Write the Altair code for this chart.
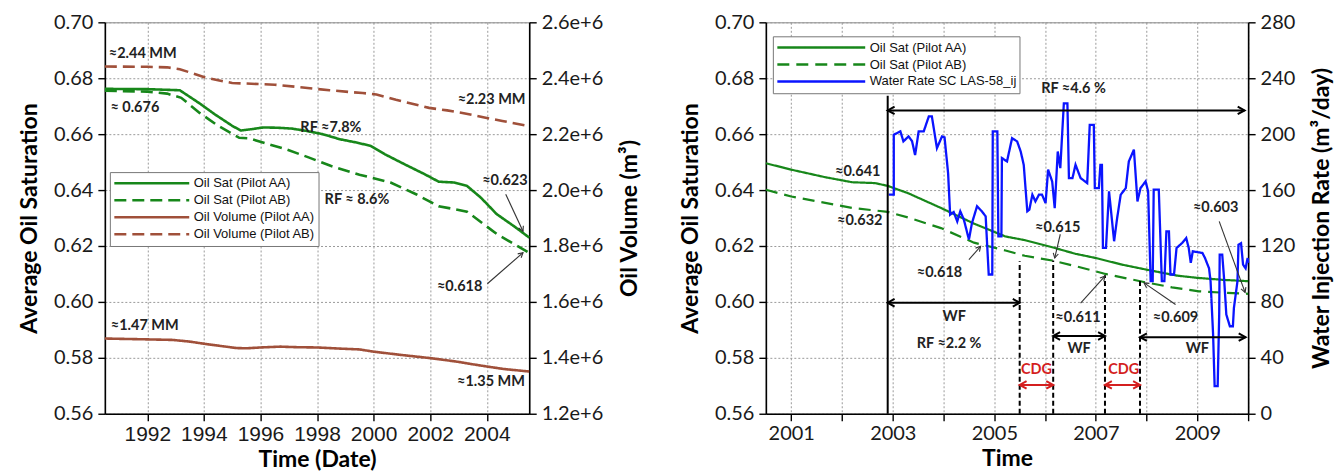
import altair as alt
import pandas as pd
import numpy as np

# ---------------- Left panel data ----------------
L_AA_YEAR = [1990.5, 1992.0, 1993.15, 1993.85, 1994.4, 1995.0, 1995.3, 1995.7, 1996.1, 1996.6, 1997.1, 1997.6,
             1998.2, 1998.8, 1999.4, 1999.9, 2000.4, 2001.1, 2001.8, 2002.3, 2002.85, 2003.3, 2003.8, 2004.35,
             2005.0, 2005.5]
L_AA_SAT = [0.6762, 0.6761, 0.6757, 0.6710, 0.6670, 0.6630, 0.6613, 0.6618, 0.6624, 0.6623, 0.6620, 0.6612,
            0.6600, 0.6582, 0.6570, 0.6558, 0.6528, 0.6492, 0.6457, 0.6430, 0.6427, 0.6415, 0.6372, 0.6314,
            0.6268, 0.6230]
L_AB_YEAR = [1990.5, 1992.0, 1992.7, 1993.2, 1993.85, 1994.5, 1995.25, 1995.6, 1996.2, 1996.9, 1997.7, 1998.5,
             1999.5, 2000.6, 2001.5, 2002.3, 2002.85, 2003.3, 2003.8, 2004.35, 2005.0, 2005.5]
L_AB_SAT = [0.6755, 0.6752, 0.6745, 0.6730, 0.6676, 0.6630, 0.6587, 0.6585, 0.6567, 0.6546, 0.6517, 0.6486,
            0.6455, 0.6427, 0.6385, 0.6342, 0.6332, 0.6323, 0.6285, 0.6243, 0.6205, 0.6175]
L_VAA_YEAR = [1990.5, 1992.0, 1992.9, 1993.5, 1994.1, 1994.7, 1995.15, 1995.5, 1996.0, 1996.7, 1997.3, 1998.0,
              1998.8, 1999.5, 2000.0, 2001.0, 2002.0, 2002.9, 2003.5, 2004.0, 2004.6, 2005.5]
L_VAA = [1.469e6, 1.466e6, 1.464e6, 1.458e6, 1.449e6, 1.441e6, 1.435e6, 1.434e6, 1.437e6, 1.440e6, 1.438e6,
         1.437e6, 1.433e6, 1.430e6, 1.422e6, 1.410e6, 1.399e6, 1.387e6, 1.377e6, 1.369e6, 1.360e6, 1.351e6]
L_VAB_YEAR = [1990.5, 1992.0, 1992.7, 1993.15, 1993.6, 1994.1, 1995.0, 1996.5, 1997.5, 1998.44, 1999.61, 2000.1,
              2000.79, 2001.96, 2002.6, 2003.14, 2004.1, 2004.55, 2005.5]
L_VAB = [2.442e6, 2.441e6, 2.439e6, 2.432e6, 2.418e6, 2.401e6, 2.383e6, 2.377e6, 2.367e6, 2.357e6, 2.347e6,
         2.342e6, 2.323e6, 2.294e6, 2.285e6, 2.276e6, 2.256e6, 2.247e6, 2.229e6]

L_SERIES = ["Oil Sat (Pilot AA)", "Oil Sat (Pilot AB)", "Oil Volume (Pilot AA)", "Oil Volume (Pilot AB)"]
L_XTICKS = [1992, 1994, 1996, 1998, 2000, 2002, 2004]
SAT_TICKS = [0.56, 0.58, 0.60, 0.62, 0.64, 0.66, 0.68, 0.70]
VOL_TICKS = [1.2e6, 1.4e6, 1.6e6, 1.8e6, 2.0e6, 2.2e6, 2.4e6, 2.6e6]

L_TEXT = ["≈2.44 MM", "≈ 0.676", "RF ≈7.8%", "RF ≈ 8.6%", "≈2.23 MM", "≈0.623", "≈0.618", "≈1.47 MM", "≈1.35 MM"]
L_TEXT_YEAR = [1991.84, 1991.56, 1998.49, 1999.41, 2004.17, 2004.64, 2003.04, 1991.91, 2004.15]
L_TEXT_VAL = [0.6887, 0.6694, 0.6623, 0.6363, 0.6723, 0.6431, 0.6053, 0.5915, 0.5715]

L_PTR_X1 = [2004.67, 2004.02]
L_PTR_Y1 = [0.6385, 0.6065]
L_PTR_X2 = [2005.28, 2005.28]
L_PTR_Y2 = [0.6253, 0.6176]

# ---------------- Right panel data ----------------
R_AA_YEAR = [2000.5, 2001.0, 2001.67, 2002.2, 2002.65, 2002.9, 2003.3, 2003.95, 2004.6, 2005.22, 2005.6, 2006.19,
             2006.6, 2007.0, 2007.5, 2007.98, 2008.6, 2009.0, 2009.5, 2010.0]
R_AA_SAT = [0.6496, 0.6473, 0.6446, 0.6428, 0.6425, 0.6415, 0.6389, 0.6336, 0.6280, 0.6234, 0.6221, 0.6193,
            0.6172, 0.6157, 0.6134, 0.6116, 0.6094, 0.6086, 0.6079, 0.6074]
R_AB_YEAR = [2000.5, 2001.0, 2001.67, 2002.2, 2002.9, 2003.3, 2003.95, 2004.6, 2005.22, 2005.6, 2006.14, 2006.6,
             2007.19, 2007.98, 2008.5, 2009.03, 2009.5, 2010.0]
R_AB_SAT = [0.6401, 0.6377, 0.6354, 0.6336, 0.6322, 0.6302, 0.6264, 0.6212, 0.6184, 0.6165, 0.6148, 0.6128,
            0.6100, 0.6070, 0.6052, 0.6038, 0.6033, 0.6029]
RATE_POINTS = [
    (2002.92, 156.7), (2003.02, 156.7), (2003.02, 199.6), (2003.15, 202.0), (2003.21, 194.8), (2003.31, 198.4),
    (2003.38, 195.0), (2003.44, 185.0), (2003.51, 202.0), (2003.61, 202.0), (2003.71, 212.7), (2003.77, 212.7),
    (2003.87, 190.0), (2003.97, 198.4), (2004.02, 197.7), (2004.09, 172.0), (2004.13, 142.4), (2004.20, 144.3),
    (2004.27, 137.6), (2004.33, 144.8), (2004.40, 138.9), (2004.50, 124.6), (2004.56, 136.4), (2004.66, 148.4),
    (2004.75, 145.0), (2004.83, 141.2), (2004.89, 99.6), (2004.96, 99.6), (2004.97, 202.0), (2005.06, 202.0),
    (2005.08, 126.9), (2005.14, 126.9), (2005.15, 182.9), (2005.25, 180.5), (2005.35, 197.1), (2005.45, 194.8),
    (2005.52, 187.6), (2005.58, 178.0), (2005.65, 144.8), (2005.69, 146.0), (2005.75, 156.7), (2005.81, 151.9),
    (2005.88, 156.7), (2005.94, 156.7), (2006.01, 150.7), (2006.06, 174.6), (2006.14, 166.2), (2006.19, 147.1),
    (2006.25, 187.6), (2006.30, 175.7), (2006.37, 222.0), (2006.44, 222.0), (2006.47, 168.6), (2006.54, 168.6),
    (2006.60, 178.1), (2006.70, 168.6), (2006.83, 165.0), (2006.88, 206.7), (2006.96, 206.7), (2006.98, 161.4),
    (2007.06, 161.4), (2007.09, 178.1), (2007.12, 178.1), (2007.14, 118.6), (2007.20, 118.6), (2007.26, 159.1),
    (2007.36, 123.4), (2007.42, 140.0), (2007.49, 156.7), (2007.59, 161.4), (2007.65, 180.5), (2007.75, 188.9),
    (2007.82, 151.9), (2007.88, 161.4), (2007.98, 166.2), (2008.03, 159.1), (2008.08, 94.8), (2008.12, 94.8),
    (2008.14, 160.3), (2008.24, 160.3), (2008.30, 94.8), (2008.35, 94.8), (2008.39, 130.5), (2008.44, 130.5),
    (2008.47, 99.6), (2008.54, 99.6), (2008.59, 118.6), (2008.70, 122.1), (2008.78, 125.7), (2008.83, 118.6),
    (2008.87, 107.9), (2008.91, 116.2), (2009.10, 115.0), (2009.15, 111.4), (2009.23, 104.0), (2009.26, 94.8),
    (2009.31, 56.7), (2009.34, 19.8), (2009.40, 19.8), (2009.43, 71.0), (2009.44, 113.8), (2009.49, 113.8),
    (2009.53, 94.8), (2009.57, 71.0), (2009.64, 62.6), (2009.70, 62.6), (2009.72, 75.7), (2009.79, 94.8),
    (2009.81, 121.0), (2009.86, 122.0), (2009.90, 106.7), (2009.95, 104.0), (2009.99, 111.4), (2010.0, 107.9),
]
R_SERIES = ["Oil Sat (Pilot AA)", "Oil Sat (Pilot AB)", "Water Rate SC LAS-58_ij"]
R_XTICKS = [2001, 2002, 2003, 2004, 2005, 2006, 2007, 2008, 2009, 2010]
RATE_TICKS = [0, 40, 80, 120, 160, 200, 240, 280]

R_TEXT = ["RF ≈4.6 %", "≈0.641", "≈0.632", "≈0.618", "≈0.615", "≈0.611", "≈0.609", "≈0.603",
          "WF", "RF ≈2.2 %", "WF", "WF"]
R_TEXT_YEAR = [2006.56, 2002.31, 2002.35, 2003.92, 2006.25, 2006.65, 2008.57, 2009.36,
               2004.21, 2004.11, 2006.67, 2009.0]
R_TEXT_VAL = [0.6762, 0.6463, 0.6288, 0.6104, 0.6264, 0.5941, 0.5941, 0.6336,
              0.5945, 0.5850, 0.5832, 0.5832]
R_RED_TEXT = ["CDG", "CDG"]
R_RED_YEAR = [2005.83, 2007.55]
R_RED_VAL = [0.5756, 0.5756]

# double arrows (black): start year, end year, level
R_DARROW_X1 = [2002.9, 2002.9, 2006.16, 2007.87]
R_DARROW_X2 = [2009.93, 2005.5, 2007.18, 2009.95]
R_DARROW_Y = [0.6685, 0.5997, 0.5878, 0.5874]
# double arrows (red, CDG)
R_CDG_X1 = [2005.5, 2007.18]
R_CDG_X2 = [2006.16, 2007.87]
R_CDG_Y = [0.5703, 0.5703]
# vertical markers
R_SOLID_X = [2002.9]
R_SOLID_TOP = [0.6737]
R_DASH_X = [2005.5, 2006.16, 2007.18, 2007.87]
R_DASH_TOP = [0.6145, 0.6148, 0.6095, 0.6075]
# pointer arrows
R_PTR_X1 = [2004.50, 2006.30, 2006.70, 2008.57, 2009.43]
R_PTR_Y1 = [0.6151, 0.6242, 0.5996, 0.5991, 0.6288]
R_PTR_X2 = [2004.73, 2006.19, 2007.18, 2007.95, 2009.94]
R_PTR_Y2 = [0.6199, 0.6157, 0.6092, 0.6068, 0.6034]

# ---------------- styling ----------------
G = "#17871a"
BR = "#a0503a"
BL = "#0a14ff"
RED = "#d41f1f"
WL, WR, H = 425, 483, 392
SAT_DOM = [0.56, 0.70]
HEAD = "M-1,-0.55L0,0L-1,0.55"


def angles(x1, y1, x2, y2, pxx, pxy):
    dx = (np.array(x2) - np.array(x1)) * pxx
    dy = -(np.array(y2) - np.array(y1)) * pxy
    return np.degrees(np.arctan2(dy, dx)) % 360


def sat_y(axis=None):
    return alt.Y("val:Q", scale=alt.Scale(domain=SAT_DOM, nice=False, zero=False), axis=axis)


sat_axis = alt.Axis(values=SAT_TICKS, format=".2f", title="Average Oil Saturation", grid=True,
                    labelFont="Lato", labelFontSize=20, titleFont="Lato", titleFontSize=23,
                    titleFontWeight="bold", labelPadding=5, titlePadding=12)


def texts(labels, xs, ys, x_enc, color="#222"):
    df = pd.DataFrame({"label": labels, "year": xs, "val": ys})
    return alt.Chart(df).mark_text(font="Lato", fontWeight="bold", fontSize=14.5, color=color,
                                   align="center", baseline="middle").encode(x=x_enc, y=sat_y(), text="label:N")


def pointers(x1, y1, x2, y2, x_enc, pxx):
    df = pd.DataFrame({"year": x1, "val": y1, "year2": x2, "val2": y2})
    rules = alt.Chart(df).mark_rule(color="#333", strokeWidth=1.1).encode(
        x=x_enc, x2="year2:Q", y=sat_y(), y2="val2:Q")
    hd = pd.DataFrame({"year": x2, "val": y2, "ang": angles(x1, y1, x2, y2, pxx, H / 0.14)})
    heads = alt.Chart(hd).mark_point(shape=HEAD, filled=False, size=90, strokeWidth=1.1,
                                     color="#333", opacity=1).encode(
        x=x_enc, y=sat_y(), angle=alt.Angle("ang:Q", scale=None))
    return [rules, heads]


def right_axis(ticks, title, fmt=None):
    kw = dict(orient="right", values=ticks, title=title, grid=False, labelFont="Lato", labelFontSize=20,
              titleFont="Lato", titleFontSize=23, titleFontWeight="bold", titleAngle=270,
              titleBaseline="top", labelPadding=5, titlePadding=16)
    if fmt:
        kw["format"] = fmt
    return alt.Axis(**kw)


# ---------------- left panel ----------------
xL = alt.X("year:Q", scale=alt.Scale(domain=[1990.5, 2005.5], nice=False, zero=False),
           axis=alt.Axis(values=L_XTICKS, format="d", title="Time (Date)", grid=True,
                         labelFont="Liberation Sans", labelFontSize=21, titleFont="Lato",
                         titleFontSize=23, titleFontWeight="bold", labelPadding=3, titlePadding=4))

legL = alt.Legend(title=None, orient="none", legendX=5, legendY=150, symbolType="stroke",
                  symbolSize=5625, symbolStrokeWidth=2.5, clipHeight=16.5, labelFont="Liberation Sans",
                  labelFontSize=13, labelColor="#111", labelOffset=3, fillColor="white",
                  strokeColor="#777", padding=3, rowPadding=0)
colL = alt.Color("series:N", scale=alt.Scale(domain=L_SERIES, range=[G, G, BR, BR]), legend=legL)
dashL = alt.StrokeDash("series:N", scale=alt.Scale(domain=L_SERIES, range=[[1, 0], [12, 6], [1, 0], [12, 6]]),
                       legend=legL)

sat_L = pd.concat([
    pd.DataFrame({"year": L_AA_YEAR, "val": L_AA_SAT, "series": L_SERIES[0]}),
    pd.DataFrame({"year": L_AB_YEAR, "val": L_AB_SAT, "series": L_SERIES[1]}),
])
vol_L = pd.concat([
    pd.DataFrame({"year": L_VAA_YEAR, "vol": L_VAA, "series": L_SERIES[2]}),
    pd.DataFrame({"year": L_VAB_YEAR, "vol": L_VAB, "series": L_SERIES[3]}),
])

l_sat = alt.Chart(sat_L).mark_line(strokeWidth=2.6).encode(
    x=xL, y=sat_y(sat_axis), color=colL, strokeDash=dashL, detail="series:N")
l_vol = alt.Chart(vol_L).mark_line(strokeWidth=2.6).encode(
    x=xL,
    y=alt.Y("vol:Q", scale=alt.Scale(domain=[1.2e6, 2.6e6], nice=False, zero=False),
            axis=right_axis(VOL_TICKS, "Oil Volume (m³)", ".1e")),
    color=colL, strokeDash=dashL, detail="series:N")

left = alt.layer(
    l_sat, l_vol,
    texts(L_TEXT, L_TEXT_YEAR, L_TEXT_VAL, xL),
    *pointers(L_PTR_X1, L_PTR_Y1, L_PTR_X2, L_PTR_Y2, xL, WL / 15.0),
).resolve_scale(y="independent").properties(width=WL, height=H)

# ---------------- right panel ----------------
xR = alt.X("year:Q", scale=alt.Scale(domain=[2000.5, 2010.0], nice=False, zero=False),
           axis=alt.Axis(values=R_XTICKS, format="d", labelExpr="datum.value % 2 == 1 ? datum.label : ''",
                         title="Time", grid=True, labelFont="Lato", labelFontSize=20, titleFont="Lato",
                         titleFontSize=23, titleFontWeight="bold", labelPadding=3, titlePadding=4))

legR = alt.Legend(title=None, orient="none", legendX=7, legendY=14, symbolType="stroke",
                  symbolSize=7744, symbolStrokeWidth=2.5, clipHeight=16.5, labelFont="Liberation Sans",
                  labelFontSize=13, labelColor="#111", labelOffset=3, fillColor="white",
                  strokeColor="#777", padding=3, rowPadding=0)
colR = alt.Color("series:N", scale=alt.Scale(domain=R_SERIES, range=[G, G, BL]), legend=legR)
dashR = alt.StrokeDash("series:N", scale=alt.Scale(domain=R_SERIES, range=[[1, 0], [12, 7], [1, 0]]),
                       legend=legR)

sat_R = pd.concat([
    pd.DataFrame({"year": R_AA_YEAR, "val": R_AA_SAT, "series": R_SERIES[0]}),
    pd.DataFrame({"year": R_AB_YEAR, "val": R_AB_SAT, "series": R_SERIES[1]}),
])
rate_df = pd.DataFrame(RATE_POINTS, columns=["year", "rate"])
rate_df["idx"] = np.arange(len(rate_df))
rate_df["series"] = R_SERIES[2]

r_sat = alt.Chart(sat_R).mark_line(strokeWidth=2.2).encode(
    x=xR, y=sat_y(sat_axis), color=colR, strokeDash=dashR, detail="series:N")
r_rate = alt.Chart(rate_df).mark_line(strokeWidth=2.3).encode(
    x=xR,
    y=alt.Y("rate:Q", scale=alt.Scale(domain=[0, 280], nice=False, zero=False),
            axis=right_axis(RATE_TICKS, "Water Injection Rate (m³/day)")),
    color=colR, strokeDash=dashR, order="idx:Q")

solid_df = pd.DataFrame({"year": R_SOLID_X, "val": [0.56], "val2": R_SOLID_TOP})
r_solid = alt.Chart(solid_df).mark_rule(color="black", strokeWidth=2).encode(x=xR, y=sat_y(), y2="val2:Q")
dash_df = pd.DataFrame({"year": R_DASH_X, "val": [0.56] * 4, "val2": R_DASH_TOP})
r_dash = alt.Chart(dash_df).mark_rule(color="black", strokeWidth=2, strokeDash=[5, 3]).encode(
    x=xR, y=sat_y(), y2="val2:Q")


def double_arrows(x1, x2, ys, color, width):
    df = pd.DataFrame({"year": x1, "year2": x2, "val": ys})
    rule = alt.Chart(df).mark_rule(color=color, strokeWidth=width).encode(x=xR, x2="year2:Q", y=sat_y())
    hd = pd.DataFrame({"year": list(x1) + list(x2), "val": list(ys) + list(ys),
                       "ang": [180.0] * len(x1) + [0.0] * len(x2)})
    heads = alt.Chart(hd).mark_point(shape=HEAD, filled=False, size=190, strokeWidth=width,
                                     color=color, opacity=1).encode(
        x=xR, y=sat_y(), angle=alt.Angle("ang:Q", scale=None))
    return [rule, heads]


right = alt.layer(
    r_sat, r_rate, r_solid, r_dash,
    *double_arrows(R_DARROW_X1, R_DARROW_X2, R_DARROW_Y, "black", 2),
    *double_arrows(R_CDG_X1, R_CDG_X2, R_CDG_Y, RED, 2),
    texts(R_TEXT, R_TEXT_YEAR, R_TEXT_VAL, xR),
    texts(R_RED_TEXT, R_RED_YEAR, R_RED_VAL, xR, color=RED),
    *pointers(R_PTR_X1, R_PTR_Y1, R_PTR_X2, R_PTR_Y2, xR, WR / 9.5),
).resolve_scale(y="independent").properties(width=WR, height=H)

chart = alt.hconcat(left, right, spacing=35).resolve_scale(
    color="independent", strokeDash="independent").resolve_legend(
    color="independent", strokeDash="independent").properties(
    padding={"left": 9, "top": 3, "right": 0, "bottom": 0}, background="white"
).configure_view(stroke="#888", strokeWidth=1).configure_axis(
    domainColor="black", domainWidth=1.6, tickColor="black", tickWidth=1.4, tickSize=7,
    labelColor="#1a1a1a", titleColor="black", gridColor="#9a9a9a", gridDash=[2, 2], gridWidth=1)

chart.save("out.html", embed_options={"renderer": "svg", "actions": False})
